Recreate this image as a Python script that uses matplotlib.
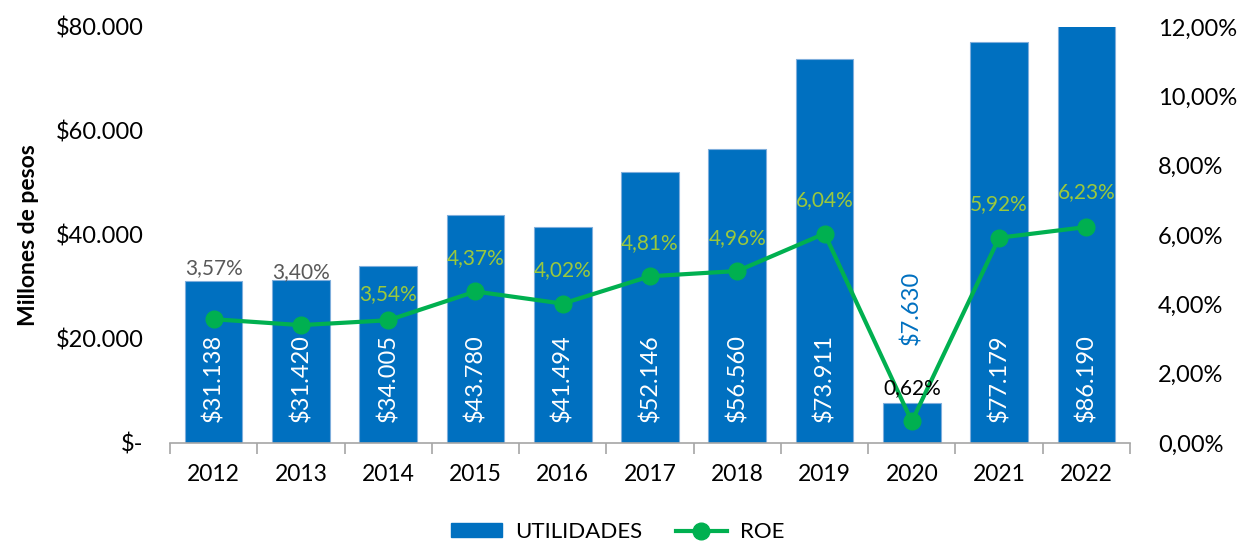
import matplotlib
matplotlib.use('Agg')
import matplotlib.pyplot as plt
import matplotlib.ticker as tkr
from matplotlib.lines import Line2D
from matplotlib.patches import Patch

plt.rcParams['font.family'] = ['Lato', 'DejaVu Sans']

# DATA
years = ['2012', '2013', '2014', '2015', '2016', '2017',
         '2018', '2019', '2020', '2021', '2022']
utilidades = [31138, 31420, 34005, 43780, 41494, 52146,
              56560, 73911, 7630, 77179, 86190]
roe = [3.57, 3.40, 3.54, 4.37, 4.02, 4.81, 4.96, 6.04, 0.62, 5.92, 6.23]

# label placement (points above marker) and colours, as in the original
roe_label_offsets = [37, 38, 19, 24, 24, 24, 24, 24, 24, 24, 25]
roe_label_colors = ['#595959', '#595959', '#9BC83C', '#9BC83C', '#9BC83C',
                    '#9BC83C', '#9BC83C', '#9BC83C', '#000000', '#9BC83C',
                    '#9BC83C']

BLUE = '#0070C0'
GREEN = '#00B050'
GRID = '#A6A6A6'


def pesos(x, pos):
    if x == 0:
        return '$-'
    return '${:,.0f}'.format(x).replace(',', '.')


def percent(x, pos):
    return '{:.2f}%'.format(x).replace('.', ',')


fig = plt.figure(figsize=(12.4, 5.43), dpi=100)
ax = fig.add_axes([0.1371, 0.1842, 0.7742, 0.7661])
ax2 = ax.twinx()

xs = list(range(len(years)))
ax.bar(xs, utilidades, width=0.66, color=BLUE, edgecolor='#7FAEDC',
       linewidth=0.8)

# values inside the bars, rotated
for i, val in enumerate(utilidades):
    txt = pesos(val, None)
    if i == 8:
        ax.annotate(txt, xy=(i, val), xytext=(0, 42),
                    textcoords='offset points', rotation=90,
                    ha='center', va='bottom', color=BLUE, fontsize=17)
    else:
        ax.annotate(txt, xy=(i, 0), xytext=(0, 15),
                    textcoords='offset points', rotation=90,
                    ha='center', va='bottom', color='white', fontsize=17)

ax.set_xlim(-0.5, len(years) - 0.5)
ax.set_ylim(0, 80000)
ax.yaxis.set_major_locator(tkr.MultipleLocator(20000))
ax.yaxis.set_major_formatter(tkr.FuncFormatter(pesos))

# category ticks between bars, year labels centred
ax.set_xticks([x - 0.5 for x in range(len(years) + 1)])
ax.set_xticklabels([])
ax.set_xticks(xs, minor=True)
ax.set_xticklabels(years, minor=True)
ax.tick_params(axis='x', which='major', length=8, color=GRID, width=1.2)
ax.tick_params(axis='x', which='minor', length=0, pad=15, labelsize=16.5)
ax.tick_params(axis='y', length=0, pad=19, labelsize=17)

for side in ['left', 'right', 'top']:
    ax.spines[side].set_visible(False)
    ax2.spines[side].set_visible(False)
ax.spines['bottom'].set_color(GRID)
ax.spines['bottom'].set_linewidth(1.2)
ax2.spines['bottom'].set_visible(False)

ax.set_ylabel('Millones de pesos', fontsize=16.5, fontweight='bold',
              labelpad=12)

# ROE line
ax2.plot(xs, roe, color=GREEN, linewidth=3, marker='o', markersize=12)
ax2.set_ylim(0, 12)
ax2.yaxis.set_major_locator(tkr.MultipleLocator(2))
ax2.yaxis.set_major_formatter(tkr.FuncFormatter(percent))
ax2.tick_params(axis='y', length=0, pad=20, labelsize=17)

for i, val in enumerate(roe):
    ax2.annotate(percent(val, None), xy=(i, val),
                 xytext=(0, roe_label_offsets[i]), textcoords='offset points',
                 ha='center', va='center', color=roe_label_colors[i],
                 fontsize=15)

handles = [Patch(facecolor=BLUE, edgecolor=BLUE),
           Line2D([], [], color=GREEN, linewidth=3, marker='o', markersize=12)]
fig.legend(handles, ['UTILIDADES', 'ROE'], loc='center',
           bbox_to_anchor=(0.498, 0.02), ncol=2, frameon=False,
           fontsize=16, handlelength=2.3, handleheight=0.6,
           handletextpad=0.6, columnspacing=1.5)

fig.savefig('out.png', dpi=100)
